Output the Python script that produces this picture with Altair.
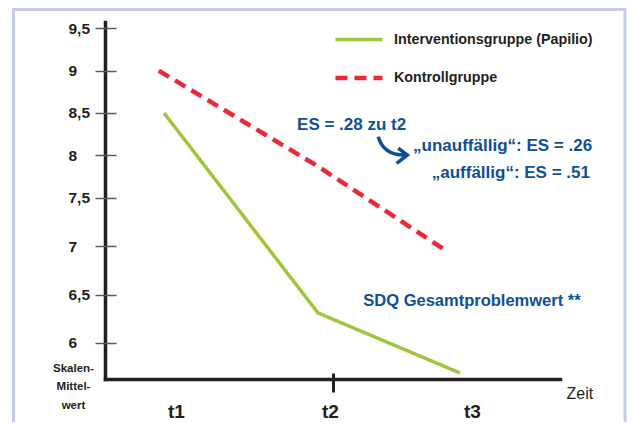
import json
import altair as alt
import pandas as pd

# ---------------- data ----------------
time_labels = ["t1", "t2", "t3"]
series_names = ["Interventionsgruppe (Papilio)", "Kontrollgruppe"]
interv_time = [1, 2, 3]
interv_value = [8.5, 6.31, 5.69]
ctrl_time = [0.966, 2, 2.915]
ctrl_value = [9.0, 7.87, 6.94]
y_tick_values = [6, 6.5, 7, 7.5, 8, 8.5, 9, 9.5]
y_title_lines = ["Skalen-", "Mittel-", "wert"]
x_title = "Zeit"
es_main_text = ["ES = .28 zu t2"]
es_sub_text = ["„unauffällig“: ES = .26", "„auffällig“: ES = .51"]
note_text = ["SDQ Gesamtproblemwert **"]

# annotation anchors, in data units (time, scale value)
es_main_x, es_main_y = [1.864], [8.358]
es_sub_x, es_sub_y = [3.93, 3.915], [8.11, 7.79]
note_x, note_y = [2.319], [6.431]
arrow_x, arrow_y = [2.521], [8.063]

# ---------------- styles ----------------
FONT = "Liberation Sans, Arial, sans-serif"
DARK = "#231f20"
BLUE = "#0e4f9a"
GREEN = "#9fc63b"
RED = "#ee2737"
TICK_GRAY = "#5a5a5c"
FRAME = "#c5cde6"
ARROW_PATH = "M -0.86 -0.83 Q -0.5 0.4 0.96 0.31 M 0.39 -0.11 L 0.96 0.31 L 0.29 0.83"

lines_df = pd.DataFrame({
    "time": interv_time + ctrl_time,
    "value": interv_value + ctrl_value,
    "group": [series_names[0]] * len(interv_time) + [series_names[1]] * len(ctrl_time),
})

x_scale = alt.Scale(domain=[0.617, 1, 2, 3, 3.704], range=[0, 59, 213, 355, 455], nice=False, zero=False)
y_scale = alt.Scale(domain=[5.628, 7.5, 9.574], range=[357, 175.7, 0], nice=False, zero=False)

x_axis_main = alt.Axis(
    values=[1, 2, 3], ticks=False, grid=False,
    domainColor=DARK, domainWidth=3.5, domainCap="square",
    labelExpr=f"{json.dumps(time_labels)}[datum.value - 1]",
    labelFont=FONT, labelFontSize=19, labelFontWeight="bold", labelColor=DARK,
    labelPadding=42.5, labelBaseline="bottom", labelOffset=12,
    labelFlush=False, labelOverlap=False,
    title=x_title, titleX=461, titleY=19, titleAlign="left", titleBaseline="alphabetic",
    titleFont=FONT, titleFontSize=16, titleFontWeight="normal", titleColor=DARK,
)
y_axis_main = alt.Axis(
    values=y_tick_values, ticks=False, grid=False,
    domainColor=DARK, domainWidth=3.5, domainCap="square",
    labelExpr="replace(format(datum.value, '~g'), '.', ',')",
    labelAlign="left", labelBaseline="middle", labelPadding=37,
    labelFont=FONT, labelFontSize=15.5, labelFontWeight="bold", labelColor=DARK,
    labelFlush=False, labelOverlap=False,
    title=y_title_lines, titleAngle=0, titleX=-32, titleY=340,
    titleAlign="center", titleBaseline="top", titleFont=FONT, titleFontSize=11.5,
    titleLineHeight=18.5, titleFontWeight="bold", titleColor=DARK,
)
x_axis_ticks = alt.Axis(
    orient="bottom", offset=-6, values=[2], tickSize=19, tickWidth=3, tickColor=DARK,
    tickOffset=15, domain=False, labels=False, grid=False, title=None,
)
y_axis_ticks = alt.Axis(
    orient="left", offset=-11, values=y_tick_values, tickSize=21, tickWidth=1.5,
    tickColor=TICK_GRAY, domain=False, labels=False, grid=False, title=None,
)

legend = alt.Legend(
    orient="none", legendX=228, legendY=-8, title=None, padding=0,
    symbolType="stroke", symbolSize=2209, symbolStrokeWidth=4,
    labelFont=FONT, labelFontSize=14.3, labelFontWeight="bold", labelColor=DARK,
    labelOffset=9, rowPadding=5, labelLimit=0,
)

frame = alt.Chart(pd.DataFrame({"k": [0]})).mark_rect(
    fillOpacity=0, stroke=FRAME, strokeWidth=3
).encode(
    x=alt.value(-91.5), x2=alt.value(520), y=alt.value(-12.5), y2=alt.value(440)
)

lines = alt.Chart(lines_df).mark_line(strokeCap="butt").encode(
    x=alt.X("time:Q", scale=x_scale, axis=x_axis_main),
    y=alt.Y("value:Q", scale=y_scale, axis=y_axis_main),
    color=alt.Color("group:N", scale=alt.Scale(domain=series_names, range=[GREEN, RED]), legend=legend),
    strokeDash=alt.StrokeDash("group:N", scale=alt.Scale(domain=series_names, range=[[1, 0], [12, 7]]), legend=legend),
    strokeWidth=alt.StrokeWidth("group:N", scale=alt.Scale(domain=series_names, range=[3.5, 4.5]), legend=None),
)

arrow = alt.Chart(pd.DataFrame({"x": arrow_x, "y": arrow_y})).mark_point(
    shape=ARROW_PATH, size=1024, filled=False, stroke=BLUE, strokeWidth=3.5, opacity=1
).encode(
    x=alt.X("x:Q", scale=x_scale, axis=x_axis_ticks),
    y=alt.Y("y:Q", scale=y_scale, axis=y_axis_ticks),
)

def text_layer(texts, xs, ys, align, size):
    df = pd.DataFrame({"t": texts, "x": xs, "y": ys})
    return alt.Chart(df).mark_text(
        align=align, baseline="middle", font=FONT, fontSize=size, fontWeight="bold", color=BLUE
    ).encode(
        x=alt.X("x:Q", scale=x_scale, axis=None),
        y=alt.Y("y:Q", scale=y_scale, axis=None),
        text="t:N",
    )

es_main = text_layer(es_main_text, es_main_x, es_main_y, "left", 17)
es_sub = text_layer(es_sub_text, es_sub_x, es_sub_y, "right", 17)
note = text_layer(note_text, note_x, note_y, "left", 16.5)

chart = alt.layer(frame, lines, arrow, es_main, es_sub, note).resolve_axis(
    x="independent", y="independent"
).properties(
    width=455, height=357,
    autosize=alt.AutoSizeParams(type="none"),
    padding={"left": 97, "top": 14, "right": 67, "bottom": 43},
    background="white",
).configure_view(strokeOpacity=0)

chart.save("out.html", embed_options={"renderer": "svg", "actions": False})
